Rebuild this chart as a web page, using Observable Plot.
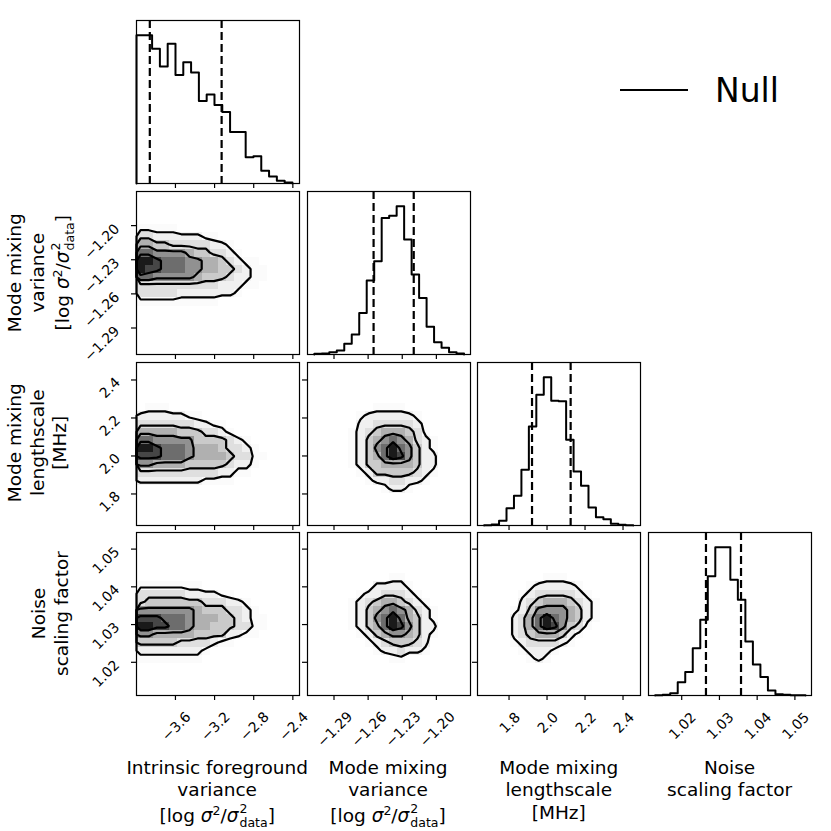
<!DOCTYPE html>
<html>
<head>
<meta charset="utf-8">
<script src="https://cdn.jsdelivr.net/npm/d3@7"></script>
<script src="https://cdn.jsdelivr.net/npm/@observablehq/plot@0.6"></script>
<style>
  html, body { margin: 0; padding: 0; background: #fff; }
  #fig { position: relative; width: 831px; height: 831px; overflow: hidden; font-family: "DejaVu Sans", sans-serif; color: #000; }
  #fig svg text { font-size: 14px; font-family: "DejaVu Sans", sans-serif; }
  .xlab { position: absolute; width: 240px; text-align: center; font-size: 18.5px; line-height: 22.5px; white-space: nowrap; }
  .ylab { position: absolute; width: 240px; text-align: center; font-size: 18.5px; line-height: 22.5px; white-space: nowrap; transform: rotate(-90deg); transform-origin: 50% 50%; }
  .sup { font-size: 12.5px; vertical-align: 7px; line-height: 0; }
  .ss { display: inline-block; font-size: 12.5px; line-height: 14px; vertical-align: -5px; text-align: left; margin-left: 1px; }
  .ss span { display: block; }
  .legend { position: absolute; left: 620px; top: 68px; height: 44px; display: flex; align-items: center; font-size: 33px; }
  .legend .sw { width: 68px; height: 0; border-top: 2.5px solid #000; margin-right: 27px; }
</style>
</head>
<body>
<div id="fig"></div>
<script>
// ---------- data ----------
const ivDomain = [-3.998, -2.332];
const mmvDomain = [-1.3133, -1.1700];
const lenDomain = [1.634, 2.492];
const noiseDomain = [1.0112, 1.0544];

const ivTicks = [-3.6, -3.2, -2.8, -2.4];
const mmvTicks = [-1.29, -1.26, -1.23, -1.20];
const lenTicks = [1.8, 2.0, 2.2, 2.4];
const noiseTicks = [1.02, 1.03, 1.04, 1.05];

// 1D histograms (20 bins each): first bin edge, bin width, counts, 16/84% quantiles
const ivBinStart = -3.998, ivBinWidth = 0.0797;
const ivCounts = [445,445,405,351,420,326,364,333,248,267,236,215,155,155,79,82,38,21,8,3];
const ivQuantiles = [-3.862, -3.128];

const mmvBinStart = -1.3073, mmvBinWidth = 0.00658;
const mmvCounts = [2,3,7,12,32,60,125,222,280,410,417,445,345,240,170,83,37,20,7,3];
const mmvQuantiles = [-1.2552, -1.2199];

const lenBinStart = 1.669, lenBinWidth = 0.03923;
const lenCounts = [1,3,14,52,89,167,297,392,444,374,372,257,162,119,54,25,19,5,2,1];
const lenQuantiles = [1.921, 2.1243];

const noiseBinStart = 1.01297, noiseBinWidth = 0.001992;
const noiseCounts = [1,2,7,39,70,140,225,354,440,440,344,284,160,92,55,15,4,2,1,1];
const noiseQuantiles = [1.02643, 1.03572];

// 2D density grids (20x20 over the axis ranges, top row = highest y), levels 0-9
const Z = "00000000000000000000";
const gridIvMmv = [Z,Z,Z,Z,
  "11111000000000000000",
  "33222222110000000000",
  "55443333322100000000",
  "77666654433210000000",
  "99877766554321100000",
  "98877766554432110000",
  "77666665444322110000",
  "33333333332221100000",
  "33333222222210000000",
  "11111111110000000000",
  Z,Z,Z,Z,Z,Z];
const gridIvLen = [Z,Z,Z,Z,Z,
  "01110000000000000000",
  "22222211000000000000",
  "33333332211000000000",
  "55555444332100000000",
  "77666664444321000000",
  "99877765554332100000",
  "88877765555433110000",
  "66555544444322100000",
  "33333333332211000000",
  "22222222111100000000",
  Z,Z,Z,Z,Z];
const gridIvNoise = [Z,Z,Z,Z,Z,Z,
  "11111111000000000000",
  "33333322221100000000",
  "34444444333221000000",
  "66666665444332100000",
  "88877765554432110000",
  "99887765544433110000",
  "66555554444221100000",
  "44444333321100000000",
  "22222222100000000000",
  "11111111000000000000",
  Z,Z,Z,Z];
const gridMmvLen = [Z,Z,Z,Z,Z,
  "00000000111100000000",
  "00000012222221000000",
  "00000022333332100000",
  "00000123455543100000",
  "00000124567653210000",
  "00000124679764210000",
  "00000124579864220000",
  "00000124455554220000",
  "00000012444443210000",
  "00000001223322100000",
  "00000000012210000000",
  Z,Z,Z,Z];
const gridMmvNoise = [Z,Z,Z,Z,Z,
  "00000000001100000000",
  "00000000222210000000",
  "00000012233321000000",
  "00000123455432100000",
  "00000124567653210000",
  "00000124679754210000",
  "00000124579864220000",
  "00000012456654210000",
  "00000001234443200000",
  "00000000122322100000",
  "00000000001100000000",
  Z,Z,Z,Z];
const gridLenNoise = [Z,Z,Z,Z,Z,
  "00000000111000000000",
  "00000012222210000000",
  "00000123333321000000",
  "00000234555432100000",
  "00001246666542100000",
  "00002357976542100000",
  "00002357986431000000",
  "00002345554210000000",
  "00001233332100000000",
  "00000122210000000000",
  "00000012100000000000",
  Z,Z,Z,Z];
const contourLevels = [1.5, 3.5, 5.5, 7.5];

const legendLabel = "Null";
// ---------- end of data ----------

const GN = 20;
const parseGrid = rows => rows.flatMap(r => Array.from(r.padEnd(GN, "0").slice(0, GN), Number));
const fmt = dec => d => d.toFixed(dec).replace("-", "\u2212");
const stepPoints = (start, width, counts) => {
  const pts = [{x: start, y: 0}];
  counts.forEach((c, i) => pts.push({x: start + i * width, y: c}));
  pts.push({x: start + counts.length * width, y: 0});
  return pts;
};

// label placement (px): distance of rotated label centre from the frame, vertical shift for y labels
const vars = [
  {domain: ivDomain, ticks: ivTicks, fmt: fmt(1), hist: [ivBinStart, ivBinWidth, ivCounts], q: ivQuantiles, xOff: 31, yOff: 30, yDy: 11},
  {domain: mmvDomain, ticks: mmvTicks, fmt: fmt(2), hist: [mmvBinStart, mmvBinWidth, mmvCounts], q: mmvQuantiles, xOff: 34, yOff: 34.5, yDy: 16},
  {domain: lenDomain, ticks: lenTicks, fmt: fmt(1), hist: [lenBinStart, lenBinWidth, lenCounts], q: lenQuantiles, xOff: 27.5, yOff: 26.5, yDy: 8},
  {domain: noiseDomain, ticks: noiseTicks, fmt: fmt(2), hist: [noiseBinStart, noiseBinWidth, noiseCounts], q: noiseQuantiles, xOff: 30.5, yOff: 30.5, yDy: 11.5}
];
const grids = {"1-0": gridIvMmv, "2-0": gridIvLen, "3-0": gridIvNoise, "2-1": gridMmvLen, "3-1": gridMmvNoise, "3-2": gridLenNoise};

const S = 163;
const colLeft = [135.7, 306.5, 477.3, 648.1];
const rowTop = [20.2, 190.9, 361.6, 532.3];
const fig = document.getElementById("fig");
const TICK_FONT = 14;
const TS = 5;
const blank = () => "";

function panel(r, c) {
  const xv = vars[c];
  const bottomRow = r === 3, leftCol = c === 0;
  const axes = [
    Plot.frame({stroke: "#000", strokeWidth: 1.2}),
    Plot.axisX({ticks: xv.ticks, tickSize: TS, tickFormat: blank, label: null, strokeWidth: 1.2})
  ];
  if (bottomRow) axes.push(Plot.axisX({ticks: xv.ticks, tickSize: 0, tickPadding: xv.xOff, tickRotate: -45, fontSize: TICK_FONT,
      textAnchor: "middle", lineAnchor: "middle", dx: 1, tickFormat: xv.fmt, label: null, strokeOpacity: 0}));
  let marks, yDomain, color;
  if (r === c) {
    const [start, width, counts] = xv.hist;
    yDomain = [0, 1.1 * d3.max(counts)];
    marks = [
      Plot.line(stepPoints(start, width, counts), {x: "x", y: "y", curve: "step-after", stroke: "#000", strokeWidth: 2}),
      Plot.ruleX(xv.q, {stroke: "#000", strokeWidth: 2.2, strokeDasharray: "8,4"})
    ];
  } else {
    const yv = vars[r];
    yDomain = yv.domain;
    const g = parseGrid(grids[`${r}-${c}`]);
    const bounds = {width: GN, height: GN, x1: xv.domain[0], x2: xv.domain[1], y1: yv.domain[1], y2: yv.domain[0]};
    color = {type: "pow", exponent: 1.8, domain: [0, 9], range: ["#ffffff", "#1a1a1a"]};
    marks = [
      Plot.raster(g, {...bounds, fill: Plot.identity, imageRendering: "pixelated"}),
      Plot.contour(g, {...bounds, value: Plot.identity, thresholds: contourLevels, stroke: "#000", strokeWidth: 2.2, fill: "none"})
    ];
    axes.push(Plot.axisY({ticks: yv.ticks, tickSize: TS, tickFormat: blank, label: null, strokeWidth: 1.2}));
    if (leftCol) axes.push(Plot.axisY({ticks: yv.ticks, tickSize: 0, tickPadding: yv.yOff, tickRotate: -45, fontSize: TICK_FONT,
      textAnchor: "middle", lineAnchor: "middle", dy: yv.yDy, tickFormat: yv.fmt, label: null, strokeOpacity: 0}));
  }
  const opts = {
    width: S, height: S, marginTop: 0, marginRight: 0, marginBottom: 0, marginLeft: 0,
    style: {background: "transparent", overflow: "visible", fontFamily: "'DejaVu Sans', sans-serif", fontSize: TICK_FONT + "px", color: "#000"},
    x: {domain: xv.domain},
    y: {domain: yDomain, axis: r === c ? null : undefined},
    marks: [...marks, ...axes]
  };
  if (color) opts.color = color;
  const svg = Plot.plot(opts);
  svg.style.position = "absolute";
  svg.style.left = colLeft[c] + "px";
  svg.style.top = rowTop[r] + "px";
  svg.style.maxWidth = "none";
  svg.querySelectorAll("text").forEach(t => { t.style.fontSize = TICK_FONT + "px"; });
  fig.appendChild(svg);
}
for (let r = 0; r < 4; r++) for (let c = 0; c <= r; c++) panel(r, c);

// axis labels
const mathLabel = '[log <i>σ</i><span class="sup">2</span>/<i>σ</i><span class="ss"><span>2</span><span>data</span></span>]';
const labelLines = [
  ["Intrinsic foreground", "variance", mathLabel],
  ["Mode mixing", "variance", mathLabel],
  ["Mode mixing", "lengthscale", "[MHz]"],
  ["Noise", "scaling factor"]
];
const LH = 22.5;
labelLines.forEach((lines, i) => {
  const cx = colLeft[i] + S / 2;
  const d = document.createElement("div");
  d.className = "xlab";
  d.innerHTML = lines.join("<br>");
  d.style.left = (cx - 120) + "px";
  d.style.top = (768 - LH / 2) + "px";
  fig.appendChild(d);
  if (i > 0) {
    const h = lines.length * LH;
    const cy = rowTop[i] + S / 2;
    const e = document.createElement("div");
    e.className = "ylab";
    e.innerHTML = lines.join("<br>");
    e.style.height = h + "px";
    e.style.left = (72 - h / 2 - 120) + "px";
    e.style.top = (cy - h / 2) + "px";
    fig.appendChild(e);
  }
});

// legend
const lg = document.createElement("div");
lg.className = "legend";
lg.innerHTML = `<div class="sw"></div><span>${legendLabel}</span>`;
fig.appendChild(lg);
</script>
</body>
</html>
